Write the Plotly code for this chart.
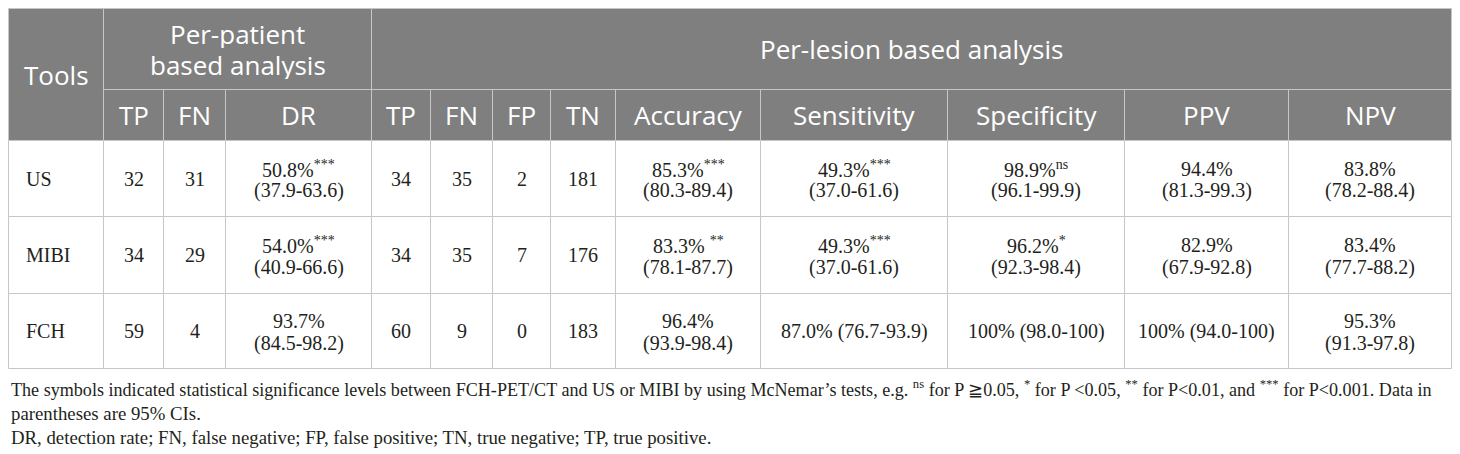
import plotly.graph_objects as go

# data of the table
tools = ["US", "MIBI", "FCH"]
patient_tp = ["32", "34", "59"]
patient_fn = ["31", "29", "4"]
patient_dr = ["50.8%<sup>***</sup>", "54.0%<sup>***</sup>", "93.7%"]
patient_dr_ci = ["(37.9-63.6)", "(40.9-66.6)", "(84.5-98.2)"]
lesion_tp = ["34", "34", "60"]
lesion_fn = ["35", "35", "9"]
lesion_fp = ["2", "7", "0"]
lesion_tn = ["181", "176", "183"]
accuracy = ["85.3%<sup>***</sup>", "83.3% <sup>**</sup>", "96.4%"]
accuracy_ci = ["(80.3-89.4)", "(78.1-87.7)", "(93.9-98.4)"]
sensitivity = ["49.3%<sup>***</sup>", "49.3%<sup>***</sup>", "87.0%"]
sensitivity_ci = ["(37.0-61.6)", "(37.0-61.6)", "(76.7-93.9)"]
specificity = ["98.9%<sup>ns</sup>", "96.2%<sup>*</sup>", "100%"]
specificity_ci = ["(96.1-99.9)", "(92.3-98.4)", "(98.0-100)"]
ppv = ["94.4%", "82.9%", "100%"]
ppv_ci = ["(81.3-99.3)", "(67.9-92.8)", "(94.0-100)"]
npv = ["83.8%", "83.4%", "95.3%"]
npv_ci = ["(78.2-88.4)", "(77.7-88.2)", "(91.3-97.8)"]

sub_headers = ["TP", "FN", "DR", "TP", "FN", "FP", "TN",
               "Accuracy", "Sensitivity", "Specificity", "PPV", "NPV"]
group_headers = ["Per-patient<br>based analysis", "Per-lesion based analysis"]

footnotes = [
    "The symbols indicated statistical significance levels between FCH-PET/CT and US or MIBI by using "
    "McNemar’s tests, e.g. <sup>ns</sup> for P ≧0.05, <sup>*</sup> for P &lt;0.05, <sup>**</sup> for P&lt;0.01, "
    "and <sup>***</sup> for P&lt;0.001. Data in",
    "parentheses are 95% CIs.",
    "DR, detection rate; FN, false negative; FP, false positive; TN, true negative; TP, true positive.",
]

# columns: (value, ci) ; ci None -> single value
columns = [
    (patient_tp, None), (patient_fn, None), (patient_dr, patient_dr_ci),
    (lesion_tp, None), (lesion_fn, None), (lesion_fp, None), (lesion_tn, None),
    (accuracy, accuracy_ci), (sensitivity, sensitivity_ci),
    (specificity, specificity_ci), (ppv, ppv_ci), (npv, npv_ci),
]
# cells that fit on one line
one_line = {(2, 8), (2, 9), (2, 10)}

# layout geometry (page pixels); the page body has an 8px margin
W, H = 1460, 454
PAD = 8
ORIGIN = 6.5  # data value drawn at the figure's top-left corner
col_x = [7, 102, 162, 224, 370, 429, 491, 549, 614, 759, 946, 1123, 1287, 1450]
row_y = [7, 88, 139, 215, 292, 367]
HEAD_BG = "#7f7f7f"
GRID = "#c6c6c6"
SANS = "Open Sans"
SERIF = "Liberation Serif"
INK = "#231f20"

fig = go.Figure()


def cell(x0, x1, y0, y1, fill):
    fig.add_shape(type="rect", x0=x0, x1=x1, y0=y0, y1=y1, xref="x", yref="y",
                  fillcolor=fill, line=dict(color=GRID, width=1), layer="below")


def label(x, y, text, size, family, color, anchor="center", height=None):
    fig.add_annotation(x=x, y=y, text=text, showarrow=False, xref="x", yref="y",
                       xanchor=anchor, yanchor="middle", align=anchor if anchor != "center" else "center",
                       height=height, font=dict(size=size, family=family, color=color))


def mid(a, b):
    return (a + b) / 2


# header
cell(col_x[0], col_x[1], row_y[0], row_y[2], HEAD_BG)
label(mid(col_x[0], col_x[1]), mid(row_y[0], row_y[2]), "Tools", 26, SANS, "white")
cell(col_x[1], col_x[4], row_y[0], row_y[1], HEAD_BG)
for i, line in enumerate(group_headers[0].split("<br>")):
    label(mid(col_x[1], col_x[4]), mid(row_y[0], row_y[1]) + (i - 0.5) * 31, line, 26, SANS, "white",
          height=29)
cell(col_x[4], col_x[-1], row_y[0], row_y[1], HEAD_BG)
label(mid(col_x[4], col_x[-1]), mid(row_y[0], row_y[1]), group_headers[1], 26, SANS, "white")
for j, name in enumerate(sub_headers):
    cell(col_x[j + 1], col_x[j + 2], row_y[1], row_y[2], HEAD_BG)
    label(mid(col_x[j + 1], col_x[j + 2]), mid(row_y[1], row_y[2]), name, 26, SANS, "white")

# body
for i, tool in enumerate(tools):
    y0, y1 = row_y[i + 2], row_y[i + 3]
    yc = mid(y0, y1)
    cell(col_x[0], col_x[1], y0, y1, "white")
    label(col_x[0] + 15, yc, tool, 20, SERIF, INK, anchor="left")
    for j, (vals, cis) in enumerate(columns):
        x0, x1 = col_x[j + 1], col_x[j + 2]
        xc = mid(x0, x1)
        cell(x0, x1, y0, y1, "white")
        if cis is None:
            label(xc, yc, vals[i], 20, SERIF, INK)
        elif (i, j) in one_line:
            label(xc, yc, vals[i] + " " + cis[i], 20, SERIF, INK)
        else:
            label(xc, yc - 10, vals[i], 20, SERIF, INK)
            label(xc, yc + 12, cis[i], 20, SERIF, INK)

# footnotes
foot_sizes = [18.1, 18.8, 18.8]
for k, text in enumerate(footnotes):
    label(col_x[0], 387 + k * 24.5, text, foot_sizes[k], SERIF, INK, anchor="left")

fig.update_xaxes(range=[ORIGIN, ORIGIN + W - PAD], visible=False, fixedrange=True)
fig.update_yaxes(range=[ORIGIN + H - PAD, ORIGIN], visible=False, fixedrange=True)
fig.update_layout(width=W - PAD, height=H - PAD, margin=dict(l=0, r=0, t=0, b=0),
                  plot_bgcolor="white", paper_bgcolor="white", showlegend=False)

fig.write_html("out.html")
